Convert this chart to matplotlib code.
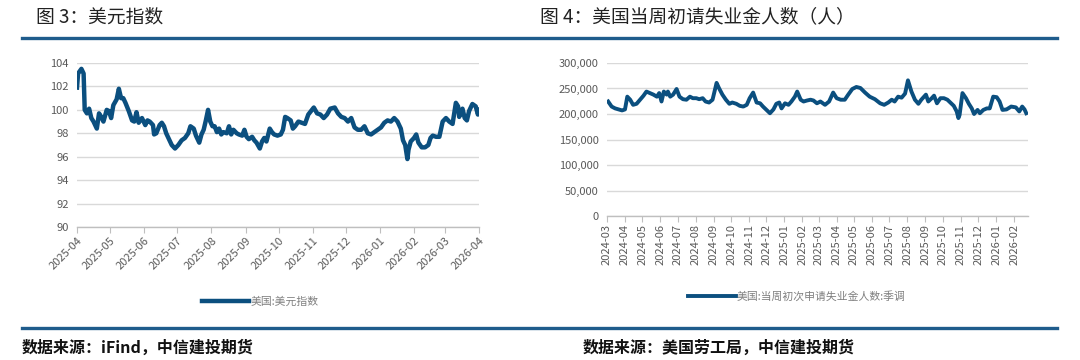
import pandas as pd
import matplotlib
matplotlib.use("Agg")
import matplotlib.pyplot as plt
from matplotlib.lines import Line2D
from matplotlib.ticker import FuncFormatter

plt.rcParams['font.family'] = ['Noto Sans CJK SC', 'DejaVu Sans']

# 美元指数
dxy_dates = [
    "2025-04-01", "2025-04-02", "2025-04-05", "2025-04-07", "2025-04-08", "2025-04-10",
    "2025-04-12", "2025-04-14", "2025-04-16", "2025-04-19", "2025-04-21", "2025-04-23",
    "2025-04-25", "2025-04-28", "2025-04-30", "2025-05-02", "2025-05-04", "2025-05-07",
    "2025-05-09", "2025-05-11", "2025-05-13", "2025-05-15", "2025-05-18", "2025-05-21",
    "2025-05-23", "2025-05-25", "2025-05-27", "2025-05-30", "2025-06-02", "2025-06-04",
    "2025-06-06", "2025-06-09", "2025-06-10", "2025-06-12", "2025-06-15", "2025-06-17",
    "2025-06-19", "2025-06-21", "2025-06-24", "2025-06-26", "2025-06-29", "2025-07-02",
    "2025-07-05", "2025-07-08", "2025-07-11", "2025-07-13", "2025-07-16", "2025-07-18",
    "2025-07-21", "2025-07-23", "2025-07-25", "2025-07-27", "2025-07-29", "2025-07-31",
    "2025-08-02", "2025-08-04", "2025-08-06", "2025-08-08", "2025-08-10", "2025-08-12",
    "2025-08-15", "2025-08-17", "2025-08-19", "2025-08-21", "2025-08-24", "2025-08-26",
    "2025-08-29", "2025-08-31", "2025-09-02", "2025-09-04", "2025-09-07", "2025-09-09",
    "2025-09-11", "2025-09-14", "2025-09-16", "2025-09-18", "2025-09-20", "2025-09-23",
    "2025-09-25", "2025-09-27", "2025-09-30", "2025-10-03", "2025-10-05", "2025-10-07",
    "2025-10-09", "2025-10-12", "2025-10-14", "2025-10-16", "2025-10-19", "2025-10-22",
    "2025-10-25", "2025-10-28", "2025-11-02", "2025-11-05", "2025-11-08", "2025-11-11",
    "2025-11-14", "2025-11-17", "2025-11-21", "2025-11-24", "2025-11-27", "2025-11-30",
    "2025-12-03", "2025-12-06", "2025-12-09", "2025-12-12", "2025-12-15", "2025-12-18",
    "2025-12-21", "2025-12-24", "2025-12-27", "2025-12-30", "2026-01-02", "2026-01-05",
    "2026-01-08", "2026-01-11", "2026-01-14", "2026-01-17", "2026-01-20", "2026-01-22",
    "2026-01-24", "2026-01-26", "2026-01-27", "2026-01-29", "2026-02-01", "2026-02-03",
    "2026-02-05", "2026-02-08", "2026-02-11", "2026-02-14", "2026-02-16", "2026-02-18",
    "2026-02-21", "2026-02-24", "2026-02-27", "2026-03-02", "2026-03-05", "2026-03-08",
    "2026-03-11", "2026-03-13", "2026-03-14", "2026-03-17", "2026-03-19", "2026-03-21",
    "2026-03-23", "2026-03-26", "2026-03-29", "2026-03-31", "2026-04-01",
]
dxy_values = [
    101.9, 103.1, 103.5, 103.1, 100.0, 99.7,
    100.1, 99.3, 99.0, 98.4, 99.7, 99.4,
    99.0, 100.0, 99.9, 99.3, 100.4, 100.9,
    101.8, 101.0, 101.0, 100.6, 99.9, 99.1,
    99.0, 99.8, 98.9, 99.3, 98.7, 99.1,
    99.0, 98.7, 97.9, 98.0, 98.7, 98.9,
    98.6, 98.0, 97.4, 97.0, 96.7, 97.0,
    97.4, 97.6, 98.0, 98.6, 98.4, 97.8,
    97.2, 97.9, 98.3, 99.1, 100.0, 99.0,
    98.6, 98.6, 98.1, 98.4, 97.9, 98.1,
    98.0, 98.6, 97.9, 98.3, 98.0, 97.9,
    97.8, 98.3, 97.7, 97.5, 97.7, 97.4,
    97.2, 96.7, 97.3, 97.6, 97.3, 98.4,
    98.1, 97.9, 97.8, 97.9, 98.3, 99.4,
    99.3, 99.1, 98.4, 98.6, 99.0, 98.9,
    98.8, 99.6, 100.2, 99.7, 99.6, 99.3,
    99.6, 100.1, 100.2, 99.7, 99.4, 99.3,
    99.0, 99.3, 98.5, 98.3, 98.3, 98.6,
    98.0, 97.9, 98.1, 98.3, 98.5, 98.9,
    99.1, 99.0, 99.3, 99.0, 98.4, 97.4,
    97.0, 95.8, 96.6, 97.3, 97.6, 97.9,
    97.2, 96.8, 96.8, 97.0, 97.6, 97.8,
    97.7, 97.7, 99.0, 99.3, 99.0, 98.8,
    100.6, 100.3, 99.4, 100.1, 99.3, 99.1,
    99.9, 100.5, 100.3, 99.6, 100.0,
]

# 美国当周初次申请失业金人数:季调 (千人, 读图估计)
claims_dates = [
    "2024-03-03", "2024-03-09", "2024-03-15", "2024-03-21", "2024-03-27", "2024-04-01",
    "2024-04-05", "2024-04-10", "2024-04-15", "2024-04-21", "2024-04-27", "2024-05-03",
    "2024-05-08", "2024-05-14", "2024-05-20", "2024-05-26", "2024-05-30", "2024-06-03",
    "2024-06-07", "2024-06-12", "2024-06-14", "2024-06-18", "2024-06-23", "2024-06-29",
    "2024-07-04", "2024-07-10", "2024-07-16", "2024-07-22", "2024-07-27", "2024-08-02",
    "2024-08-07", "2024-08-13", "2024-08-18", "2024-08-24", "2024-08-30", "2024-09-06",
    "2024-09-10", "2024-09-16", "2024-09-22", "2024-09-28", "2024-10-03", "2024-10-10",
    "2024-10-16", "2024-10-22", "2024-10-28", "2024-11-02", "2024-11-08", "2024-11-14",
    "2024-11-20", "2024-11-25", "2024-12-01", "2024-12-07", "2024-12-13", "2024-12-18",
    "2024-12-23", "2024-12-27", "2025-01-02", "2025-01-08", "2025-01-13", "2025-01-19",
    "2025-01-23", "2025-01-29", "2025-02-03", "2025-02-09", "2025-02-15", "2025-02-20",
    "2025-02-26", "2025-03-04", "2025-03-12", "2025-03-19", "2025-03-26", "2025-04-01",
    "2025-04-08", "2025-04-15", "2025-04-21", "2025-04-28", "2025-05-05", "2025-05-12",
    "2025-05-20", "2025-05-28", "2025-06-06", "2025-06-15", "2025-06-22", "2025-06-29",
    "2025-07-05", "2025-07-10", "2025-07-16", "2025-07-22", "2025-07-28", "2025-08-02",
    "2025-08-08", "2025-08-14", "2025-08-20", "2025-08-25", "2025-09-02", "2025-09-06",
    "2025-09-12", "2025-09-16", "2025-09-21", "2025-09-27", "2025-10-03", "2025-10-09",
    "2025-10-14", "2025-10-20", "2025-10-25", "2025-10-28", "2025-10-30", "2025-11-04",
    "2025-11-10", "2025-11-15", "2025-11-20", "2025-11-24", "2025-11-30", "2025-12-04",
    "2025-12-10", "2025-12-16", "2025-12-21", "2025-12-27", "2026-01-02", "2026-01-07",
    "2026-01-12", "2026-01-19", "2026-01-27", "2026-02-04", "2026-02-10", "2026-02-15",
    "2026-02-19", "2026-02-22",
]
claims_k = [
    224.5, 214.6, 211, 209, 207, 209,
    234, 228, 218, 220, 228, 236,
    244, 241, 238, 234, 241, 224.5,
    244, 238, 244, 234, 238, 249,
    234, 229, 228, 234, 231, 231,
    229, 231, 224.5, 222.5, 228, 261,
    251, 238, 228, 220, 222.5, 220,
    216, 214.6, 218, 231, 242, 222.5,
    221, 214.6, 208, 201.5, 209, 220,
    222.5, 211, 221, 218, 224.5, 234,
    244, 228, 224.5, 226.5, 228, 226.5,
    221, 224.5, 218, 224.5, 242, 231,
    228, 228, 238, 249, 253, 251,
    242, 234, 229, 221, 218, 222.5,
    228, 224.5, 234, 232, 240, 266,
    244, 228, 220, 228, 238, 224.5,
    231, 236, 221, 231, 231, 228,
    222.5, 216, 205, 192, 198, 241,
    231, 220, 211, 200, 208, 201.5,
    208, 211, 211, 234, 233, 224.5,
    208, 209, 214.6, 213, 205, 214.6,
    209, 201.5,
]

left_ticks = pd.date_range("2025-04-01", "2026-04-01", freq="MS")
right_ticks = pd.date_range("2024-03-01", "2026-02-01", freq="MS")

line_color = "#0B4F7F"
rule_color = "#1F5C8C"
grid_color = "#D9D9D9"
tick_color = "#595959"

fig = plt.figure(figsize=(10.8, 3.6), dpi=100)
W, H = 1080, 360


def fx(px):
    return px / W


def fy(py):
    return 1 - py / H


# 标题与分隔线
fig.text(fx(36), fy(17), "图 3：美元指数", fontsize=13.5, va="center", ha="left", color="#222222")
fig.text(fx(540), fy(17), "图 4：美国当周初请失业金人数（人）", fontsize=13.5, va="center", ha="left", color="#222222")
fig.add_artist(Line2D([fx(22), fx(1057)], [fy(38), fy(38)], color=rule_color, lw=2.4))
fig.add_artist(Line2D([fx(22), fx(1057)], [fy(328), fy(328)], color=rule_color, lw=2.4))
fig.text(fx(22), fy(348), "数据来源：iFind，中信建投期货", fontsize=11.5, fontweight="bold",
         style="italic", va="center", ha="left", color="#111111")
fig.text(fx(583), fy(348), "数据来源：美国劳工局，中信建投期货", fontsize=11.5, fontweight="bold",
         style="italic", va="center", ha="left", color="#111111")

# 左图: 美元指数
ax1 = fig.add_axes([fx(77), fy(227), fx(479 - 77), (227 - 63) / H])
ax1.plot(pd.to_datetime(dxy_dates), dxy_values, color=line_color, lw=3.2, solid_joinstyle="round",
         label="美国:美元指数")
ax1.set_ylim(90, 104)
ax1.set_yticks(range(90, 105, 2))
ax1.set_xlim(left_ticks[0], left_ticks[-1])
ax1.set_xticks(left_ticks)
ax1.set_xticklabels([d.strftime("%Y-%m") for d in left_ticks], rotation=45, ha="right",
                    rotation_mode="anchor")

# 右图: 初请失业金人数
ax2 = fig.add_axes([fx(607), fy(216), fx(1028 - 607), (216 - 63) / H])
ax2.plot(pd.to_datetime(claims_dates), [v * 1000 for v in claims_k], color=line_color, lw=2.8,
         solid_joinstyle="round", label="美国:当周初次申请失业金人数:季调")
ax2.set_ylim(0, 300000)
ax2.set_yticks(range(0, 300001, 50000))
ax2.yaxis.set_major_formatter(FuncFormatter(lambda v, p: f"{int(v):,}"))
ax2.set_xlim(pd.Timestamp("2024-03-01"), pd.Timestamp("2026-02-25"))
ax2.set_xticks(right_ticks)
ax2.set_xticklabels([d.strftime("%Y-%m") for d in right_ticks], rotation=90, ha="center")

for ax in (ax1, ax2):
    for s in ("top", "right", "left"):
        ax.spines[s].set_visible(False)
    ax.spines["bottom"].set_color("#BFBFBF")
    ax.spines["bottom"].set_linewidth(1.0)
    ax.grid(axis="y", color=grid_color, lw=1.0)
    ax.set_axisbelow(True)
    ax.tick_params(axis="y", length=0, labelsize=8, labelcolor=tick_color, pad=6)
    ax.tick_params(axis="x", length=4, color="#BFBFBF", labelsize=8, labelcolor=tick_color, pad=2)

ax1.legend(loc="center", bbox_to_anchor=(fx(260), fy(302)), bbox_transform=fig.transFigure,
           frameon=False, fontsize=7.8, handlelength=4.4, handletextpad=0.1, labelcolor="#7F7F7F")
ax2.legend(loc="center", bbox_to_anchor=(fx(797), fy(296)), bbox_transform=fig.transFigure,
           frameon=False, fontsize=7.8, handlelength=4.4, handletextpad=0.1, labelcolor="#7F7F7F")

fig.savefig("out.png", dpi=100, facecolor="white")
